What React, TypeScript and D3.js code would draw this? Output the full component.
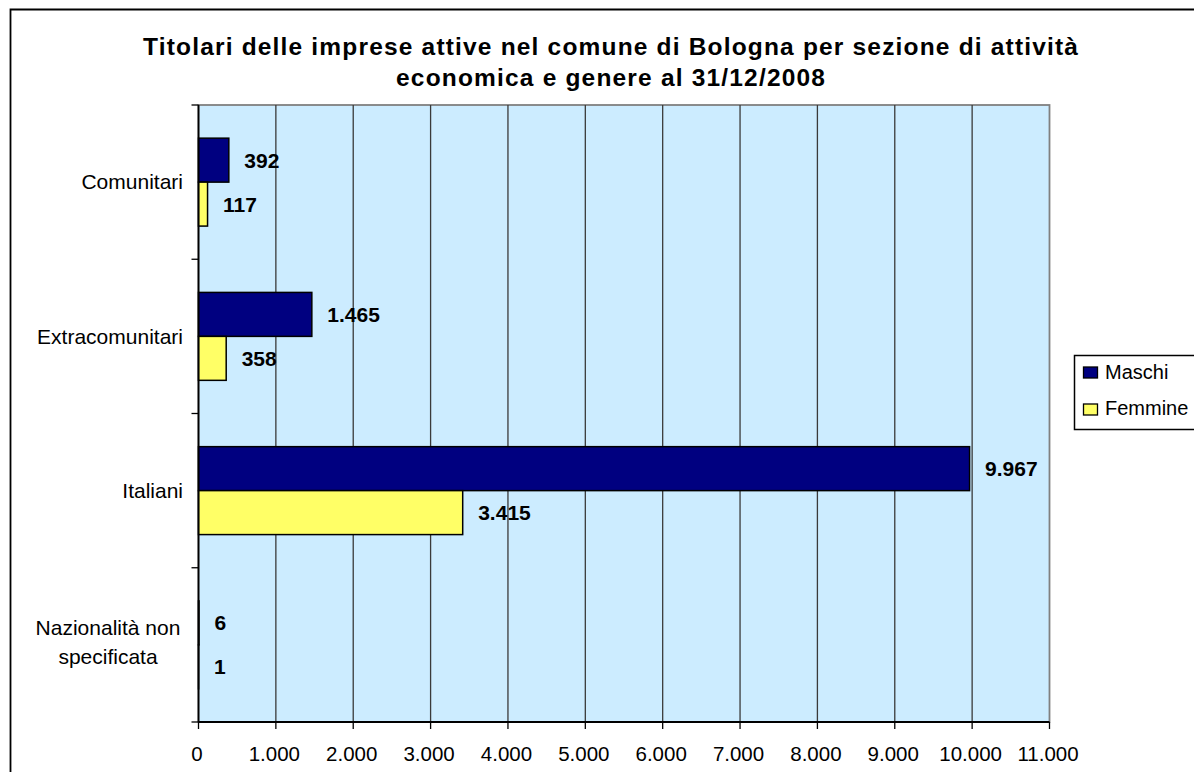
import React from "react";
import * as d3 from "d3";

const categories = ["Comunitari", "Extracomunitari", "Italiani", "Nazionalità non specificata"];
const categoryLines = [["Comunitari"], ["Extracomunitari"], ["Italiani"], ["Nazionalità non", "specificata"]];
const maschi = [392, 1465, 9967, 6];
const femmine = [117, 358, 3415, 1];
const seriesNames = ["Maschi", "Femmine"];
const seriesColors = ["#000080", "#FFFF66"];
const xTicks = [0, 1000, 2000, 3000, 4000, 5000, 6000, 7000, 8000, 9000, 10000, 11000];
const titleLines = [
  "Titolari delle imprese attive nel comune di Bologna per sezione di attività",
  "economica e genere al 31/12/2008",
];
const titleWidths = [935, 429];

const W = 1194;
const H = 772;
const left = 198.5;
const right = 1049.5;
const top = 105;
const bottom = 722;

const fmt = (v: number) => {
  const s = String(Math.round(v));
  return s.replace(/\B(?=(\d{3})+(?!\d))/g, ".");
};

export default function App() {
  const x = d3.scaleLinear().domain([0, 11000]).range([left, right]);
  const y = d3.scaleBand<string>().domain(categories).range([top, bottom]).paddingInner(0).paddingOuter(0);
  const band = y.bandwidth();
  const barH = band * 0.285;
  const groupOffset = (band - 2 * barH) / 2;
  const series = [maschi, femmine];
  const font = "Arial, 'Liberation Sans', sans-serif";

  return (
    <div style={{ position: "fixed", left: 0, top: 0 }}>
      <svg width={W} height={H} style={{ display: "block" }} fontFamily={font}>
        <rect x={0} y={0} width={W} height={H} fill="#fff" />
        {/* outer border */}
        <path d={`M10.5,${H + 2} V9.5 H${W + 2}`} fill="none" stroke="#000" strokeWidth={1.8} />
        {/* title */}
        {titleLines.map((t, i) => (
          <text
            key={i}
            x={610.5}
            y={55 + i * 31}
            textAnchor="middle"
            fontSize={24.5}
            fontWeight="bold"
            fill="#000"
            textLength={titleWidths[i]}
            lengthAdjust="spacing"
          >
            {t}
          </text>
        ))}
        {/* plot area */}
        <rect x={left} y={top} width={right - left} height={bottom - top} fill="#CCECFF" stroke="#808080" strokeWidth={1.8} />
        {/* gridlines */}
        {xTicks.slice(1, -1).map((t) => (
          <line key={t} x1={x(t)} x2={x(t)} y1={top} y2={bottom} stroke="#3a3a3a" strokeWidth={1.3} />
        ))}
        {/* bars */}
        {categories.map((c, ci) =>
          series.map((s, si) => {
            const y0 = (y(c) as number) + groupOffset + si * barH;
            const w = x(s[ci]) - x(0);
            return (
              <g key={c + si}>
                <rect x={x(0)} y={y0} width={w} height={barH} fill={seriesColors[si]} stroke="#000" strokeWidth={1.5} />
                <text x={x(s[ci]) + 15.5} y={y0 + barH / 2 + 7.5} fontSize={21} fontWeight="bold" fill="#000">
                  {fmt(s[ci])}
                </text>
              </g>
            );
          })
        )}
        {/* axes */}
        <line x1={left} x2={left} y1={top} y2={bottom} stroke="#000" strokeWidth={1.8} />
        <line x1={left} x2={right} y1={bottom} y2={bottom} stroke="#000" strokeWidth={1.8} />
        {/* y ticks at band boundaries */}
        {[...categories.map((c) => y(c) as number), bottom].map((v, i) => (
          <line key={i} x1={left - 7} x2={left} y1={v} y2={v} stroke="#000" strokeWidth={1.3} />
        ))}
        {xTicks.map((t) => (
          <g key={t}>
            <line x1={x(t)} x2={x(t)} y1={bottom} y2={bottom + 7} stroke="#000" strokeWidth={1.3} />
            <text x={x(t) - 1.5} y={761} textAnchor="middle" fontSize={20.5} fill="#000">
              {fmt(t)}
            </text>
          </g>
        ))}
        {/* category labels */}
        {categories.map((c, ci) => {
          const lines = categoryLines[ci];
          const cy = (y(c) as number) + band / 2;
          if (lines.length === 1) {
            return (
              <text key={c} x={183} y={cy + 7.3} textAnchor="end" fontSize={21} fill="#000">
                {lines[0]}
              </text>
            );
          }
          return (
            <g key={c}>
              {lines.map((l, li) => (
                <text key={li} x={108} y={cy - 10 + li * 29} textAnchor="middle" fontSize={21} fill="#000">
                  {l}
                </text>
              ))}
            </g>
          );
        })}
        {/* legend */}
        <path d={`M${W + 2},355.5 H1074.5 V429.5 H${W + 2}`} fill="#fff" stroke="#000" strokeWidth={1.5} />
        {seriesNames.map((n, i) => (
          <g key={n}>
            <rect x={1083.5} y={367 + i * 37} width={14} height={11} fill={seriesColors[i]} stroke="#000" strokeWidth={1.3} />
            <text x={1105} y={379 + i * 36} fontSize={20} fill="#000">
              {n}
            </text>
          </g>
        ))}
      </svg>
    </div>
  );
}
